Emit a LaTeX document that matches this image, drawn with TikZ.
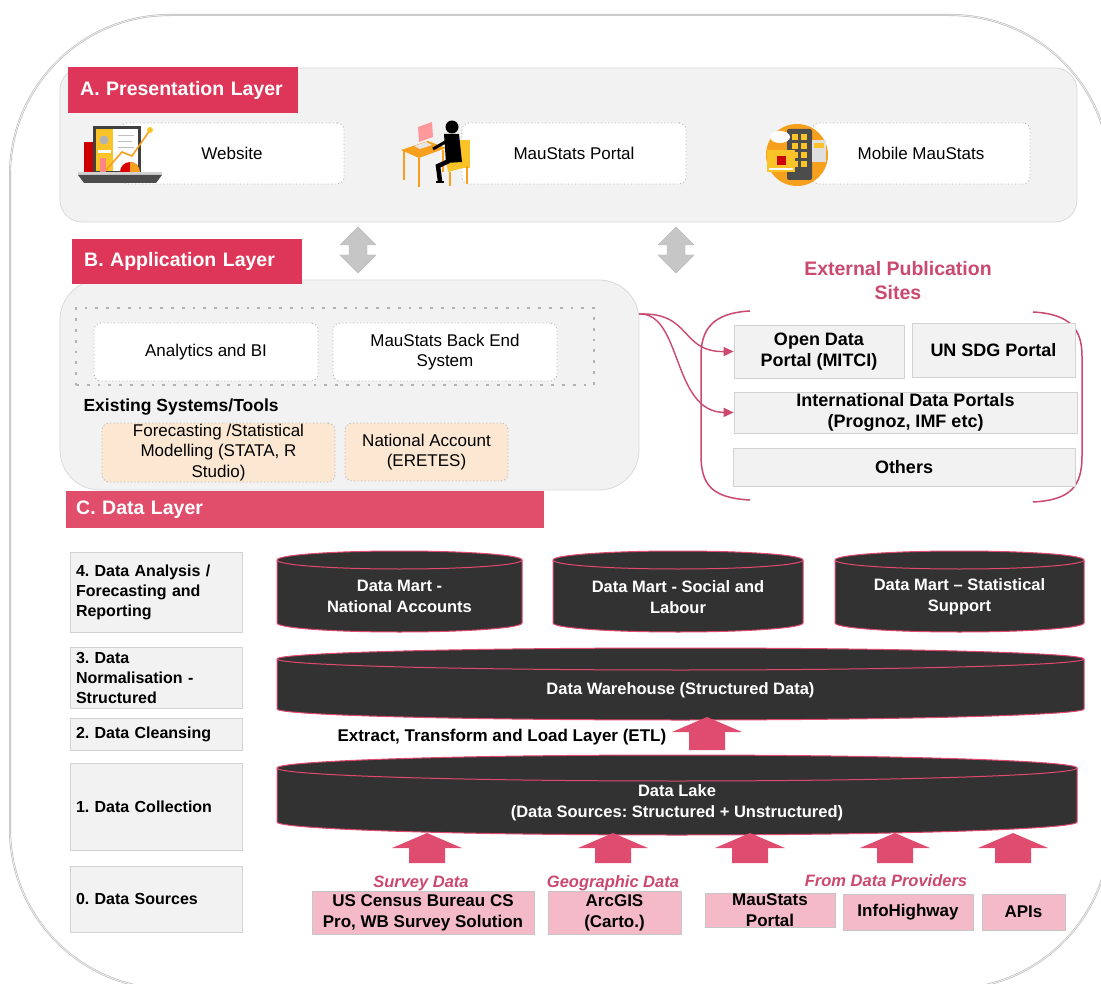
\documentclass[tikz,border=0pt]{standalone}
\usepackage{fontspec}
\setmainfont{Liberation Sans}
\usetikzlibrary{arrows.meta}
\frenchspacing

\definecolor{layerred}{RGB}{221,54,88}
\definecolor{datared}{RGB}{224,78,108}
\definecolor{sitepink}{RGB}{203,72,110}
\definecolor{liftpink}{RGB}{224,76,112}
\definecolor{panelgray}{RGB}{242,242,242}
\definecolor{cyldark}{RGB}{50,50,50}
\definecolor{cylrim}{RGB}{226,72,112}
\definecolor{srcpink}{RGB}{244,186,200}
\definecolor{toolorange}{RGB}{252,232,210}
\definecolor{iconorange}{RGB}{247,160,30}
\definecolor{iconyellow}{RGB}{250,196,40}

\newcommand{\layerfont}{\fontsize{19.5}{23}\selectfont\bfseries}
\newcommand{\regfont}{\fontsize{17}{20.5}\selectfont}
\newcommand{\headfont}{\fontsize{17.5}{21}\selectfont\bfseries}
\newcommand{\titlefont}{\fontsize{19.5}{24}\selectfont\bfseries}
\newcommand{\sitefont}{\fontsize{18}{21}\selectfont\bfseries}
\newcommand{\stagefont}{\fontsize{16}{20}\selectfont\bfseries}
\newcommand{\cylfont}{\fontsize{16.5}{21}\selectfont\bfseries}
\newcommand{\srcfont}{\fontsize{17}{21}\selectfont\bfseries}
\newcommand{\tagfont}{\fontsize{16.5}{20}\selectfont\bfseries\itshape}

% block arrow pointing up: centre x, tip y, foot y
\newcommand{\liftarrow}[3]{%
  \fill[liftpink] (#1,#2) -- (#1+35,#2+15) -- (#1+18,#2+15) -- (#1+18,#3)
    -- (#1-18,#3) -- (#1-18,#2+15) -- (#1-35,#2+15) -- cycle;}
% two-headed block arrow: centre x, top y, bottom y
\newcommand{\swaparrow}[3]{%
  \filldraw[fill=gray!45, draw=gray!55] (#1,#2) -- (#1+18,#2+18) -- (#1+9,#2+18)
    -- (#1+9,#3-18) -- (#1+18,#3-18) -- (#1,#3) -- (#1-18,#3-18)
    -- (#1-9,#3-18) -- (#1-9,#2+18) -- (#1-18,#2+18) -- cycle;}
% storage drum: name, x left, x right, top y, bottom y, rim radius, text
\newcommand{\datacyl}[7]{%
  \draw[cylbody] (#2,#4) -- (#2,#5)
    arc[start angle=180, end angle=0, x radius={(#3-#2)/2}, y radius=#6]
    -- (#3,#4)
    arc[start angle=0, end angle=-180, x radius={(#3-#2)/2}, y radius=#6] -- cycle;
  \draw[cylbody, fill=none] (#2,#4)
    arc[start angle=180, end angle=0, x radius={(#3-#2)/2}, y radius=#6];
  \node[cyltext] (#1) at ({(#2+#3)/2}, {(#4+#5)/2+0.6*#6}) {#7};}

\begin{document}
\begin{tikzpicture}[x=1pt, y=-1pt,
  frame/.style={draw=gray!55, double=gray!12, double distance=0.8pt, line width=0.6pt},
  panel/.style={draw=gray!30, fill=panelgray, line width=0.8pt},
  layertag/.style={fill=layerred, text=white, font=\layerfont, inner xsep=12pt,
    inner ysep=0pt, align=left, anchor=north west},
  itembox/.style={draw=gray!60, fill=white, dash pattern=on 1pt off 2.5pt,
    line width=0.9pt, rounded corners=7pt, font=\regfont, align=center, inner ysep=1pt},
  toolbox/.style={itembox, fill=toolorange},
  bigdots/.style={draw=gray!60, line width=2.8pt, dash pattern=on 2.8pt off 8pt},
  sitebox/.style={draw=gray!35, fill=panelgray, font=\sitefont, align=center,
    line width=0.8pt, inner sep=0pt},
  stagebox/.style={draw=gray!35, fill=panelgray, font=\stagefont, align=left,
    text width=160pt, inner xsep=6pt, inner ysep=1pt, line width=0.8pt},
  srcbox/.style={draw=gray!45, fill=srcpink, font=\srcfont, align=center, inner sep=0pt},
  srctag/.style={text=sitepink, font=\tagfont},
  cylbody/.style={fill=cyldark, draw=cylrim, line width=1pt},
  cyltext/.style={text=white, font=\cylfont, align=center},
  bracket/.style={draw=sitepink, line width=1.5pt},
  feed/.style={draw=sitepink, line width=1.4pt, -{Triangle[length=10pt,width=9pt]}}]

\useasboundingbox (0,0) rectangle (1101,984);
\fill[white] (0,0) rectangle (1101,984);
\begin{scope}
  \clip (0,0) rectangle (1101,984);
  \draw[frame, rounded corners=160pt] (10,15) rectangle (1110,989);
\end{scope}

% presentation layer
\node[panel, rounded corners=22pt, minimum width=1017pt, minimum height=154pt] (pres) at (568.5,145) {};
\node[layertag, text width=206pt, minimum height=46pt] (presTag) at (68,67) {A. Presentation Layer};
\node[itembox, minimum width=224pt, minimum height=61pt] (web) at (232,153.5) {Website};
\node[itembox, minimum width=224pt, minimum height=61pt] (portal) at (574,153.5) {MauStats Portal};
\node[itembox, minimum width=218pt, minimum height=61pt] (mobile) at (921,153.5) {Mobile MauStats};

% laptop
\fill[black!75] (93,126) rectangle (141,174);
\fill[iconyellow] (96,129) rectangle (113,171);
\fill[white] (113,129) rectangle (138,171);
\fill[gray!60] (104,140) circle (4.5);
\fill[white] (98,150) rectangle (111,153);
\draw[gray!50, line width=1pt] (118,136) -- (134,136) (118,142) -- (132,142) (118,148) -- (134,148);
\fill[red!80!black] (84,142) rectangle (93,172);
\fill[pink!70!red] (100,158) rectangle (106,172);
\draw[iconorange, line width=1.6pt] (106,170) -- (122,152) -- (132,156) -- (150,130);
\fill[iconyellow] (150,130) circle (3);
\fill[red!85!black] (120,172) arc[start angle=180, end angle=360, radius=10] -- cycle;
\fill[iconorange] (130,172) -- (130,162) arc[start angle=270, end angle=360, radius=10] -- cycle;
\fill[gray!35] (78,172) rectangle (162,175);
\fill[black!70] (78,175) -- (162,175) -- (156,183) -- (84,183) -- cycle;

% desk and user
\fill[iconorange] (401,150) -- (428,141) -- (446,148) -- (419,158) -- cycle;
\draw[iconorange, line width=2.5pt] (404,151) -- (404,180) (419,158) -- (419,187) (443,150) -- (443,172);
\fill[pink!80!red] (418,127) -- (432,122) -- (433,137) -- (419,142) -- cycle;
\fill[gray!20] (414,146) -- (426,142) -- (432,145) -- (420,149) -- cycle;
\fill[iconyellow] (456,140) rectangle (470,168);
\fill[iconyellow] (446,160) -- (468,154) -- (470,166) -- (448,172) -- cycle;
\draw[iconorange, line width=2.5pt] (450,172) -- (450,186) (467,166) -- (467,184);
\fill[black] (452,127) circle (6.5);
\fill[black] (444,134) -- (459,134) -- (462,162) -- (446,163) -- cycle;
\draw[black, line width=3pt] (447,141) -- (433,149);
\draw[black, line width=4.5pt] (449,161) -- (438,166) -- (440,181);
\draw[black, line width=2pt] (436,182) -- (444,182);

% phone in circle
\fill[iconorange] (797,155) circle (31);
\fill[black!70, rounded corners=2pt] (787,129) rectangle (812,180);
\foreach \r in {0,1,2,3}
  \foreach \c in {0,1}
    \fill[iconyellow] (792+\c*9,134+\r*9) rectangle ++(6,6);
\fill[white] (780,137) ellipse (10 and 6);
\fill[iconyellow] (767,150) rectangle (795,172);
\fill[red!80!black] (777,156) rectangle (786,165);
\fill[white] (769,168) rectangle (793,170);
\fill[gray!25] (812,140) rectangle (826,162);
\fill[iconyellow] (814,143) rectangle (824,148);

\swaparrow{358}{227}{273}
\swaparrow{676}{227}{273}

% application layer
\node[panel, rounded corners=40pt, minimum width=579pt, minimum height=210pt] (app) at (349.5,385) {};
\node[layertag, text width=206pt, minimum height=45pt] (appTag) at (72,239) {B. Application Layer};
\node[bigdots, minimum width=518pt, minimum height=77pt] (appRing) at (335,346.5) {};
\node[itembox, minimum width=224pt, minimum height=58pt] (bi) at (206,352) {Analytics and BI};
\node[itembox, minimum width=224pt, minimum height=58pt] (backend) at (445,352) {MauStats Back End\\System};
\node[anchor=west, font=\headfont] (tools) at (80,407) {Existing Systems/Tools};
\node[toolbox, inner sep=0pt, minimum width=233pt, minimum height=59pt] (stata) at (218.5,452.5) {Forecasting /Statistical\\Modelling (STATA, R\\Studio)};
\node[toolbox, minimum width=163pt, minimum height=58pt] (eretes) at (426.5,452) {National Account\\(ERETES)};

% external sites
\node[font=\titlefont, text=sitepink, align=center] (extTitle) at (898,281) {External Publication\\Sites};
\draw[bracket] (750,311) .. controls (712,313) and (701,330) .. (701,356) -- (701,455)
  .. controls (701,485) and (712,498) .. (750,500);
\draw[bracket] (1033,312) .. controls (1071,314) and (1082,330) .. (1082,356) -- (1082,456)
  .. controls (1082,486) and (1071,500) .. (1033,502);
\node[sitebox, minimum width=170pt, minimum height=53pt] (openData) at (819,351.5) {Open Data\\Portal (MITCI)};
\node[sitebox, minimum width=163pt, minimum height=54pt] (sdg) at (993.5,350) {UN SDG Portal};
\node[sitebox, minimum width=343pt, minimum height=41pt] (intl) at (905.5,412.5) {International Data Portals\\(Prognoz, IMF etc)};
\node[sitebox, minimum width=342pt, minimum height=38pt] (others) at (904,467) {Others};
\coordinate (appOut) at (639,314);
\draw[feed] (appOut) .. controls (692,312) and (680,352) .. (openData.west);
\draw[feed] (appOut) .. controls (682,312) and (672,412) .. (intl.west);

% data layer
\node[layertag, fill=datared, text width=458pt, inner xsep=10pt, minimum height=37pt] (dataTag) at (66,491) {C. Data Layer};
\node[stagebox, minimum height=80pt] (stage4) at (156,592) {4. Data Analysis /\\Forecasting and\\Reporting};
\node[stagebox, minimum height=61pt] (stage3) at (156,677.5) {3. Data\\Normalisation -\\Structured};
\node[stagebox, minimum height=32pt] (stage2) at (156,734) {2. Data Cleansing};
\node[stagebox, minimum height=87pt] (stage1) at (156,806.5) {1. Data Collection};
\node[stagebox, minimum height=66pt] (stage0) at (156,899) {0. Data Sources};

\datacyl{martNA}{277}{522}{560}{623}{9}{Data Mart -\\National Accounts}
\datacyl{martSL}{553}{803}{560}{623}{9}{Data Mart - Social and\\Labour}
\datacyl{martSS}{835}{1084}{560}{623}{9}{Data Mart – Statistical\\Support}
\datacyl{warehouse}{277}{1084}{659}{709}{11}{Data Warehouse (Structured Data)}
\datacyl{lake}{277}{1077}{768}{822}{13}{Data Lake\\(Data Sources: Structured + Unstructured)}

\node[anchor=west, font=\srcfont] (etl) at (334,737) {Extract, Transform and Load Layer (ETL)};
\liftarrow{707}{717}{750}
\foreach \x in {427,613,750,895,1013}
  \liftarrow{\x}{833}{863};

% sources
\node[srctag] (survey) at (421,883) {Survey Data};
\node[srctag] (geo) at (613,883) {Geographic Data};
\node[srctag] (providers) at (886,881) {From Data Providers};
\node[srcbox, minimum width=222pt, minimum height=43pt] (census) at (423,912.5) {US Census Bureau CS\\Pro, WB Survey Solution};
\node[srcbox, minimum width=133pt, minimum height=43pt] (arcgis) at (614.5,912.5) {ArcGIS\\(Carto.)};
\node[srcbox, minimum width=130pt, minimum height=34pt] (msPortal) at (770,910) {MauStats\\Portal};
\node[srcbox, minimum width=130pt, minimum height=36pt] (infoHwy) at (908,912) {InfoHighway};
\node[srcbox, minimum width=83pt, minimum height=36pt] (apis) at (1023.5,912) {APIs};
\end{tikzpicture}
\end{document}
